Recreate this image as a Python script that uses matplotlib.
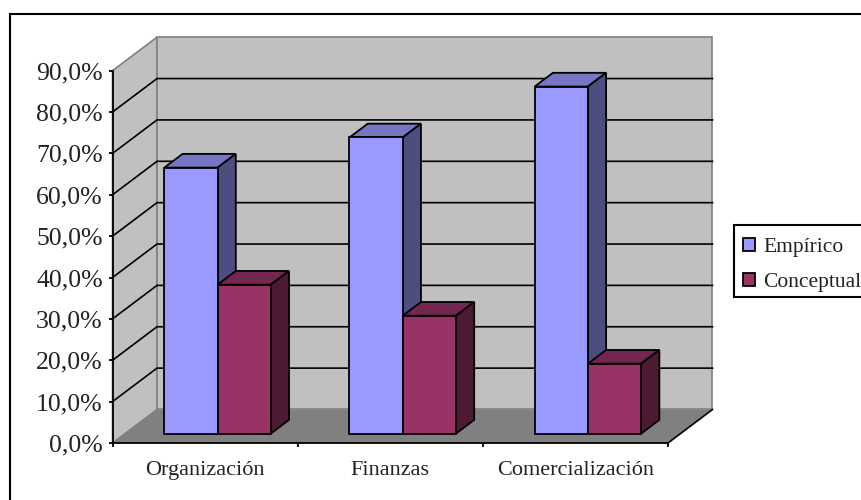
#!/usr/bin/python3

from matplotlib import pyplot as plt
from matplotlib.patches import Patch, Polygon, Rectangle

categories = ['Organización', 'Finanzas', 'Comercialización']
empirico   = [64.3, 71.6, 83.9]
conceptual = [36.0, 28.5, 16.9]

y_ticks  = [0, 10, 20, 30, 40, 50, 60, 70, 80, 90]
y_labels = ['0,0%', '10,0%', '20,0%', '30,0%', '40,0%', '50,0%', '60,0%', '70,0%', '80,0%', '90,0%']

W, H = 862, 500

# oblique projection: how far one unit of depth moves a point in data units
DX = 44.5 / 185.17
DY = 33.5 / 4.136

BLUE = ('#9999FF', '#7676C2', '#4D4D80')
RED  = ('#993366', '#732650', '#4D1A33')

BAR_W   = 0.2875
D_FRONT = 0.28
D_BACK  = 0.69


def p(x, y, d):
	return (x + d * DX, y + d * DY)


def bar3d(ax, x, value, colors):
	front, top, side = colors
	x0, base = p(x, 0, D_FRONT)
	x1 = x0 + BAR_W
	y1 = base + value
	d = D_BACK - D_FRONT
	ax.add_patch(Polygon([(x0, y1), (x1, y1), p(x1, y1, d), p(x0, y1, d)], facecolor=top,
		edgecolor='black', linewidth=1.3, clip_on=False, zorder=3))
	ax.add_patch(Polygon([(x1, base), (x1, y1), p(x1, y1, d), p(x1, base, d)], facecolor=side,
		edgecolor='black', linewidth=1.3, clip_on=False, zorder=3))
	ax.bar(x0, value, BAR_W, bottom=base, align='edge', color=front, edgecolor='black',
		linewidth=1.3, clip_on=False, zorder=3)


if __name__ == '__main__':

	plt.rcParams['font.family'] = ['Liberation Serif', 'DejaVu Serif']

	fig = plt.figure(figsize=(W / 100, H / 100), dpi=100, facecolor='white')
	ax  = fig.add_axes([112.5 / W, (H - 443) / H, 555.5 / W, 372.3 / H])
	ax.set_xlim(0, 3)
	ax.set_ylim(0, 90)
	ax.patch.set_visible(False)

	# frame around the chart, running off the right and bottom of the figure
	fig.add_artist(Rectangle((10 / W, -20 / H), 880 / W, (H + 20 - 14) / H, transform=fig.transFigure,
		facecolor='white', edgecolor='black', linewidth=1.5, zorder=-5))

	# walls and floor
	wall = dict(facecolor='#C0C0C0', edgecolor='#808080', linewidth=1.2, clip_on=False, zorder=1)
	ax.add_patch(Polygon([p(0, 0, 0), p(0, 90, 0), p(0, 90, 1), p(0, 0, 1)], **wall))
	ax.add_patch(Polygon([p(0, 0, 1), p(0, 90, 1), p(3, 90, 1), p(3, 0, 1)], **wall))
	ax.add_patch(Polygon([p(0, 0, 0), p(3, 0, 0), p(3, 0, 1), p(0, 0, 1)], facecolor='#808080',
		edgecolor='none', clip_on=False, zorder=1))
	ax.plot(*zip(p(3, 0, 0), p(3, 0, 1)), color='black', linewidth=1.2, clip_on=False, zorder=2)

	# gridlines bend from the side wall onto the back wall
	for v in y_ticks[1:-1]:
		ax.plot(*zip(p(0, v, 0), p(0, v, 1), p(3, v, 1)), color='black', linewidth=1.2,
			clip_on=False, zorder=2, solid_joinstyle='miter')

	for i in range(len(categories)):
		x = i + 0.5 - BAR_W
		bar3d(ax, x, empirico[i], BLUE)
		bar3d(ax, x + BAR_W, conceptual[i], RED)

	ax.spines['top'].set_visible(False)
	ax.spines['right'].set_visible(False)
	for s in ('left', 'bottom'):
		ax.spines[s].set_linewidth(1.3)
		ax.spines[s].set_zorder(2.5)

	ax.set_yticks(y_ticks)
	ax.set_yticklabels(y_labels, fontsize=18.5, color='#222222')
	ax.tick_params(axis='y', length=3, width=1.3, pad=4)

	ax.set_xticks([0, 1, 2, 3])
	ax.set_xticklabels([])
	ax.set_xticks([0.5, 1.5, 2.5], minor=True)
	ax.set_xticklabels(categories, minor=True, fontsize=16, color='#222222')
	ax.tick_params(axis='x', which='major', length=3, width=1.3)
	ax.tick_params(axis='x', which='minor', length=0, pad=13)

	# legend box also runs off the right edge, so it gets its own rectangle
	fig.add_artist(Rectangle((734 / W, 1 - 297 / H), 200 / W, 72 / H, transform=fig.transFigure,
		facecolor='white', edgecolor='black', linewidth=1.5, zorder=1))

	handles = [Patch(facecolor=BLUE[0], edgecolor='black', linewidth=1.3),
		Patch(facecolor=RED[0], edgecolor='black', linewidth=1.3)]
	fig.legend(handles, ['Empírico', 'Conceptual'], loc='upper left',
		bbox_to_anchor=(732 / W, 1 - 227 / H), borderaxespad=0, fontsize=15.5, frameon=False,
		handlelength=0.58, handleheight=0.58, handletextpad=0.37, labelspacing=0.72, borderpad=0.5,
		labelcolor='#222222')

	plt.savefig('out.png', dpi=100)
